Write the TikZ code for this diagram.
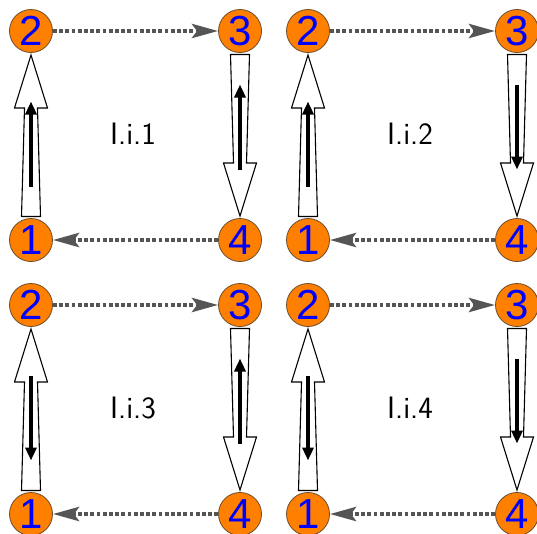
\documentclass[tikz,border=0pt]{standalone}
\usepackage{fontspec}
\newfontfamily\digitfont{Liberation Sans}
\usetikzlibrary{calc,arrows.meta}
\definecolor{nodeorange}{HTML}{FF8000}
\definecolor{dotgray}{HTML}{555555}
\definecolor{rimcol}{HTML}{6B4A2A}
\tikzset{
 vert/.style={circle,fill=nodeorange,draw=rimcol,line width=0.8pt,minimum size=43pt,inner sep=0pt,text=blue,font=\digitfont\fontsize{42}{42}\selectfont},
 dotarrow/.style={draw=dotgray,line width=4.5pt,dash pattern=on 3.8pt off 2.4pt,-{Stealth[length=26pt,width=14pt,inset=5pt,fill=dotgray]}},
 hollow/.style={draw=black,fill=white,line width=1.1pt,line join=miter},
 innerarrow/.style={draw=black,line width=4.5pt,-{Triangle[length=13pt,width=11pt]}},
 lab/.style={font=\sffamily\fontsize{31}{31}\selectfont}
}
% #1 start node, #2 end node, #3 #4 inner arrow from/to (I1 or I2)
\newcommand\hollowarrow[4]{%
  \coordinate (T) at ($(#1)!23.5pt!(#2)$);
  \coordinate (P) at ($(#2)!24pt!(#1)$);
  \coordinate (H) at ($(P)!53pt!(T)$);
  \coordinate (I1) at ($(T)!30pt!(P)$);
  \coordinate (I2) at ($(T)!115pt!(P)$);
  \draw[hollow] ($(T)!9.5pt!90:(P)$) -- ($(H)!6.5pt!90:(P)$) -- ($(H)!16.5pt!90:(P)$) -- (P)
     -- ($(H)!16.5pt!-90:(P)$) -- ($(H)!6.5pt!-90:(P)$) -- ($(T)!9.5pt!-90:(P)$) -- cycle;
  \draw[innerarrow] (#3) -- (#4);
}
% #1 prefix, #2 shift, #3 label, #4 #5 left inner order, #6 #7 right inner order
\newcommand\panel[7]{%
 \begin{scope}[shift={#2}]
  \node[vert] (#1one) at (31,240) {1};
  \node[vert] (#1two) at (31,31) {2};
  \node[vert] (#1three) at (240,31) {3};
  \node[vert] (#1four) at (240,240) {4};
  \node[lab] (#1lab) at (133,134) {#3};
  \draw[dotarrow] (#1two) -- (#1three);
  \draw[dotarrow] (#1four) -- (#1one);
  \hollowarrow{#1one}{#1two}{#4}{#5}
  \hollowarrow{#1three}{#1four}{#6}{#7}
 \end{scope}
}
\begin{document}
\begin{tikzpicture}[x=1pt,y=-1pt]
\useasboundingbox (0,0) rectangle (537,533);
\panel{a}{(0,0)}{I.i.1}{I1}{I2}{I2}{I1}
\panel{b}{(277,0)}{I.i.2}{I1}{I2}{I1}{I2}
\panel{c}{(0,274)}{I.i.3}{I2}{I1}{I2}{I1}
\panel{d}{(277,274)}{I.i.4}{I2}{I1}{I1}{I2}
\end{tikzpicture}
\end{document}
